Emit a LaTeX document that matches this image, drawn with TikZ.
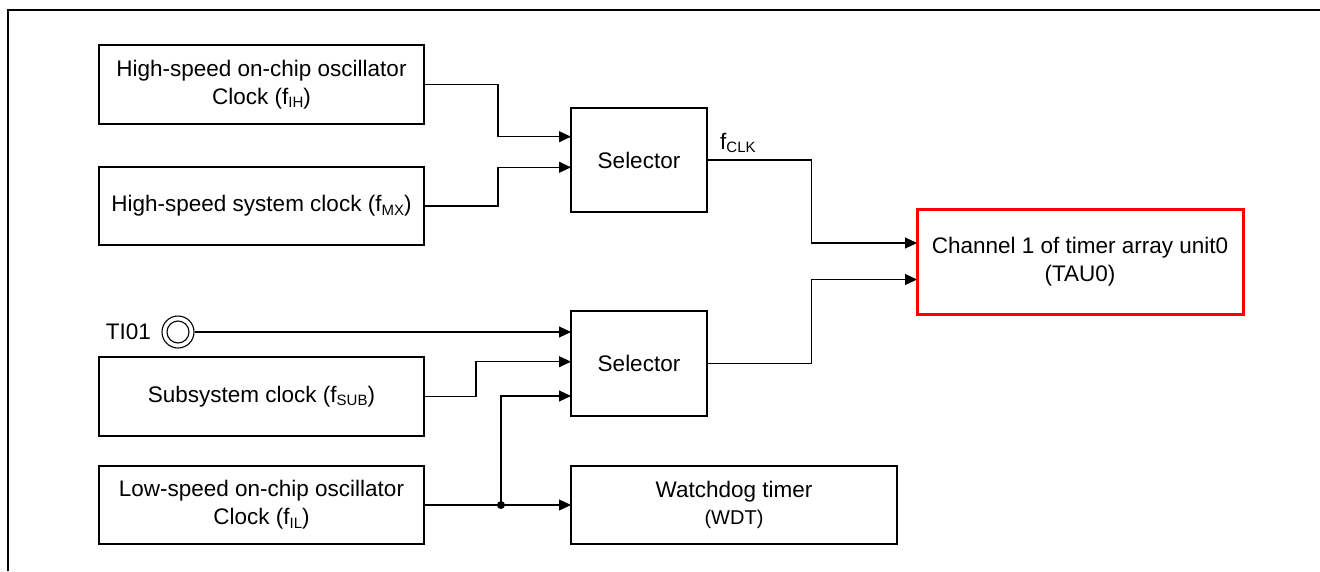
\documentclass[tikz,border=0pt]{standalone}
\usepackage{fontspec}
\setmainfont{Liberation Sans}
\usetikzlibrary{arrows.meta,calc}
\newcommand\subsc[1]{\raisebox{-3.5pt}{\fontsize{15}{15}\selectfont #1}}
\begin{document}
\begin{tikzpicture}[x=1pt,y=-1pt,
  blk/.style={draw,line width=1.1pt,anchor=north west,inner sep=0pt,outer sep=0pt,align=center,
    font=\fontsize{22.5}{28}\selectfont},
  arr/.style={line width=1.1pt,-{Triangle[length=12pt,width=11pt]}},
  wire/.style={line width=1.1pt}]
\useasboundingbox (0,0) rectangle (1320,571);
\draw[line width=2pt] (7.6,571) -- (7.6,10) -- (1320,10);
% blocks
\node[blk,minimum width=325pt,minimum height=79pt] (ih) at (99,45) {High-speed on-chip oscillator\\Clock (f\subsc{IH})};
\node[blk,minimum width=325pt,minimum height=78pt] (mx) at (99,167) {High-speed system clock (f\subsc{MX})};
\node[blk,minimum width=136pt,minimum height=104pt] (sel1) at (571,108) {Selector};
\node[blk,minimum width=136pt,minimum height=105pt] (sel2) at (571,311) {Selector};
\node[blk,draw=red,line width=3pt,minimum width=326pt,minimum height=105pt] (tau) at (917,209) {Channel 1 of timer array unit0\\(TAU0)};
\node[blk,minimum width=325pt,minimum height=79pt] (sub) at (99,357) {Subsystem clock (f\subsc{SUB})};
\node[blk,minimum width=325pt,minimum height=78pt] (il) at (99,466) {Low-speed on-chip oscillator\\Clock (f\subsc{IL})};
\node[blk,minimum width=326pt,minimum height=78pt] (wdt) at (571,466) {Watchdog timer\\[-1pt]{\fontsize{20}{24}\selectfont (WDT)}};
% TI01 pin
\node[circle,draw,line width=1.1pt,minimum size=32pt,inner sep=0pt] (ti) at (178,332) {};
\node[circle,draw,line width=1.1pt,minimum size=22pt,inner sep=0pt] (tiin) at (ti.center) {};
\node[anchor=east,inner sep=0pt,font=\fontsize{22.5}{28}\selectfont] (tilbl) at (151,332) {TI01};
% fCLK label
\node[anchor=base west,inner sep=0pt,font=\fontsize{22.5}{28}\selectfont] (fclk) at ($(sel1.east)+(13,-11)$) {f\subsc{CLK}};
% connectors to selector 1
\draw[arr] (ih.east) -- ++(74,0) |- ($(sel1.north west)+(0,28.7)$);
\draw[arr] (mx.east) -- ++(74,0) |- ($(sel1.north west)+(0,59.3)$);
% selector outputs to TAU
\draw[arr] (sel1.east) -- ++(104.5,0) |- ($(tau.west)+(0,-18.5)$);
\draw[arr] (sel2.east) -- ++(104.5,0) |- ($(tau.west)+(0,18)$);
% inputs to selector 2
\draw[arr] (ti.east) -- (ti.east -| sel2.west);
\draw[arr] (sub.east) -- ++(52,0) |- ($(sel2.north west)+(0,50.7)$);
\draw[arr] (il.east) -- (wdt.west);
\coordinate (dot) at ($(il.east)+(77,0)$);
\fill (dot) circle (4pt);
\draw[arr] (dot) |- ($(sel2.north west)+(0,85)$);
\end{tikzpicture}
\end{document}
